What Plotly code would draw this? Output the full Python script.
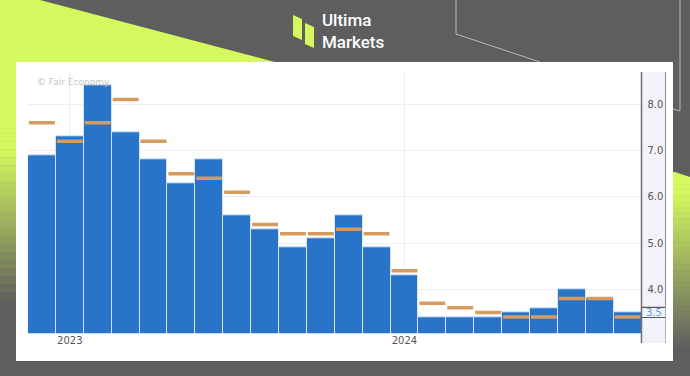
import plotly.graph_objects as go

# ---- data ----
actual = [6.9, 7.3, 8.4, 7.4, 6.8, 6.3, 6.8, 5.6, 5.3, 4.9, 5.1, 5.6, 4.9, 4.3,
          3.4, 3.4, 3.4, 3.5, 3.6, 4.0, 3.8, 3.5]
forecast = [7.6, 7.2, 7.6, 8.1, 7.2, 6.5, 6.4, 6.1, 5.4, 5.2, 5.2, 5.3, 5.2, 4.4,
            3.7, 3.6, 3.5, 3.4, 3.4, 3.8, 3.8, 3.4]
x_idx = list(range(len(actual)))
year_tick_idx = [1, 13]
year_tick_text = ["2023", "2024"]
y_tick_vals = [4.0, 5.0, 6.0, 7.0, 8.0]
latest_label = "3.5"
latest_value = 3.5

W, H = 690, 376
GRAY = "#5e5e5e"
LIME = "#d4f85e"


def px(x):
    return x / W


def py(y):
    return 1 - y / H


def hexmix(c1, c2, t):
    a = [int(c1[i:i + 2], 16) for i in (1, 3, 5)]
    b = [int(c2[i:i + 2], 16) for i in (1, 3, 5)]
    return "#%02x%02x%02x" % tuple(round(a[k] + (b[k] - a[k]) * t) for k in range(3))


shapes = []

# lime triangle, top-left
shapes.append(dict(type="path", xref="paper", yref="paper", layer="below",
                   path=f"M {px(0)},{py(0)} L {px(40)},{py(0)} L {px(275)},{py(62)} L {px(0)},{py(62)} Z",
                   fillcolor=LIME, line=dict(width=0)))
# left strip gradient
n = 30
y0, y1 = 62, 300
for i in range(n):
    ya = y0 + (y1 - y0) * i / n
    yb = y0 + (y1 - y0) * (i + 1) / n + 0.5
    t = max(0.0, (i / n - 0.35) / 0.65)
    shapes.append(dict(type="rect", xref="paper", yref="paper", layer="below",
                       x0=px(0), x1=px(17), y0=py(ya), y1=py(yb),
                       fillcolor=hexmix(LIME, GRAY, t), line=dict(width=0)))
# right strip gradient
y0, y1 = 172, 345
for i in range(n):
    ya = y0 + (y1 - y0) * i / n
    yb = y0 + (y1 - y0) * (i + 1) / n + 0.5
    t = max(0.0, (i / n - 0.1) / 0.9)
    shapes.append(dict(type="rect", xref="paper", yref="paper", layer="below",
                       x0=px(672), x1=px(690), y0=py(ya), y1=py(yb),
                       fillcolor=hexmix(LIME, GRAY, t), line=dict(width=0)))
shapes.append(dict(type="path", xref="paper", yref="paper", layer="below",
                   path=f"M {px(672)},{py(171)} L {px(690)},{py(171)} L {px(690)},{py(177)} Z",
                   fillcolor=GRAY, line=dict(width=0)))

# thin decorative lines
shapes.append(dict(type="path", xref="paper", yref="paper", layer="below",
                   path=f"M {px(456)},{py(0)} L {px(456)},{py(34)} L {px(540)},{py(62)}",
                   line=dict(color="#b8b8b8", width=1)))
shapes.append(dict(type="path", xref="paper", yref="paper", layer="below",
                   path=f"M {px(680)},{py(0)} L {px(680)},{py(111)} L {px(673)},{py(109)}",
                   line=dict(color="#b8b8b8", width=1)))

# logo icon
shapes.append(dict(type="path", xref="paper", yref="paper", layer="below",
                   path=f"M {px(293)},{py(15)} L {px(302)},{py(19)} L {px(302)},{py(40)} L {px(293)},{py(36)} Z",
                   fillcolor=LIME, line=dict(width=0)))
shapes.append(dict(type="path", xref="paper", yref="paper", layer="below",
                   path=f"M {px(305)},{py(23)} L {px(314)},{py(27)} L {px(314)},{py(48)} L {px(305)},{py(44)} Z",
                   fillcolor=LIME, line=dict(width=0)))

# white panel
shapes.append(dict(type="rect", xref="paper", yref="paper", layer="below",
                   x0=px(16), x1=px(673), y0=py(62), y1=py(361),
                   fillcolor="white", line=dict(width=0)))
# right axis panel
shapes.append(dict(type="rect", xref="paper", yref="paper", layer="below",
                   x0=px(641.5), x1=px(665.5), y0=py(72), y1=py(343),
                   fillcolor="#f2f3f8", line=dict(width=0)))
shapes.append(dict(type="line", xref="paper", yref="paper",
                   x0=px(665.5), x1=px(665.5), y0=py(72), y1=py(343),
                   line=dict(color="#b4b4b4", width=1)))
shapes.append(dict(type="line", xref="paper", yref="paper",
                   x0=px(665.5), x1=px(665.5), y0=py(72), y1=py(306),
                   line=dict(color="#8a8a8a", width=1)))
shapes.append(dict(type="line", xref="paper", yref="paper",
                   x0=px(641.5), x1=px(641.5), y0=py(72), y1=py(343),
                   line=dict(color="#6f6f6f", width=1.5)))
# latest value box lines
for dy in (-0.11, 0.11):
    shapes.append(dict(type="line", xref="paper", yref="y",
                       x0=px(641.5), x1=px(665.5), y0=latest_value + dy, y1=latest_value + dy,
                       line=dict(color="#5a5a5a", width=1.2)))

fig = go.Figure()
fig.add_trace(go.Bar(
    x=x_idx, y=actual, marker=dict(color="#2874c9", line=dict(color="#d6e5f7", width=1)),
    hoverinfo="skip"))
fig.add_trace(go.Scatter(
    x=x_idx, y=forecast, mode="markers",
    marker=dict(symbol="line-ew", size=18.5, color="#d69b5f",
                line=dict(color="#d69b5f", width=3.5)),
    hoverinfo="skip"))

annotations = [
    dict(text="© Fair Economy", xref="paper", yref="paper", x=px(35), y=py(82),
         xanchor="left", yanchor="middle", showarrow=False,
         font=dict(family="DejaVu Sans", size=9, color="#c4c4c4")),
    dict(text=latest_label, xref="paper", yref="y", x=px(653.5), y=latest_value,
         xanchor="center", yanchor="middle", showarrow=False,
         font=dict(family="DejaVu Sans", size=10, color="#5b9de8")),
    dict(text="Ultima<br>Markets", xref="paper", yref="paper", x=px(320), y=py(31),
         xanchor="left", yanchor="middle", align="left", showarrow=False,
         font=dict(family="Roboto", size=17, color="white", weight=500)),
]

fig.update_layout(
    width=W, height=H, margin=dict(l=0, r=0, t=0, b=0),
    paper_bgcolor=GRAY, plot_bgcolor="rgba(0,0,0,0)",
    showlegend=False, bargap=0, hovermode=False,
    shapes=shapes, annotations=annotations,
    xaxis=dict(domain=[px(28), px(641.5)], range=[-0.5, len(actual) - 0.5],
               tickmode="array", tickvals=year_tick_idx, ticktext=year_tick_text,
               showgrid=True, gridcolor="#eceef4", gridwidth=1,
               ticks="", showline=False, zeroline=False,
               tickfont=dict(family="DejaVu Sans", size=10, color="#555555")),
    yaxis=dict(domain=[py(333.3), py(72.3)], range=[3.049, 8.69], side="right",
               tickmode="array", tickvals=y_tick_vals, tickformat=".1f",
               showgrid=True, gridcolor="#eceef4", gridwidth=1,
               ticks="outside", ticklen=3, tickcolor="rgba(0,0,0,0)",
               showline=False, zeroline=False,
               tickfont=dict(family="DejaVu Sans", size=10, color="#555555")),
)

fig.write_html("out.html", config={"displayModeBar": False},
               post_script="document.body.style.margin='0';document.body.style.overflow='hidden';")
